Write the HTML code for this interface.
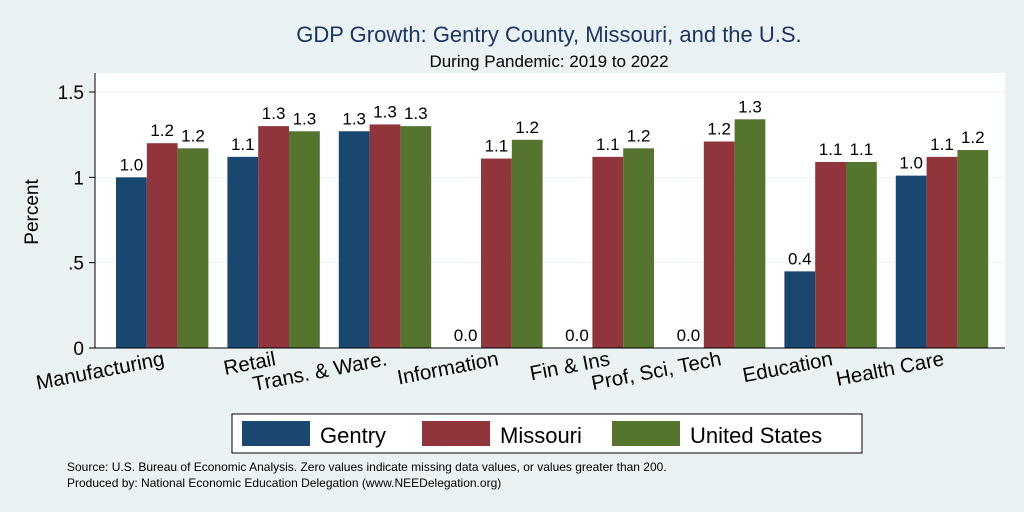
<!DOCTYPE html>
<html><head><meta charset="utf-8"><style>
body{margin:0;background:#eaf2f3;}
svg{display:block;font-family:"Liberation Sans",sans-serif;}
</style></head><body>
<svg id="chart" width="1024" height="512">
<rect x="0" y="0" width="1024" height="512" fill="#eaf2f3"/>
<rect x="95" y="73" width="910" height="275" fill="#ffffff"/>
<text x="549" y="42" text-anchor="middle" font-size="22" fill="#1c3563">GDP Growth: Gentry County, Missouri, and the U.S.</text>
<text x="549" y="67" text-anchor="middle" font-size="17" fill="#000">During Pandemic: 2019 to 2022</text>
<text transform="translate(38,212) rotate(-90)" text-anchor="middle" font-size="19">Percent</text>
<g id="grid"></g><g id="bars"></g><g id="xlabels"></g>
<line x1="95" y1="73" x2="95" y2="348" stroke="#000" stroke-width="1"/>
<line x1="95" y1="348" x2="1005" y2="348" stroke="#000" stroke-width="1"/>
<g>
<rect x="232" y="414" width="630" height="39" fill="#fff" stroke="#000"/>
<rect x="242" y="421" width="68" height="25" fill="#1a476f"/>
<text x="320" y="443" font-size="22">Gentry</text>
<rect x="422" y="421" width="68" height="25" fill="#90353b"/>
<text x="500" y="443" font-size="22">Missouri</text>
<rect x="612" y="421" width="68" height="25" fill="#55752f"/>
<text x="690" y="443" font-size="22">United States</text>
</g>
<text x="67" y="471" font-size="12">Source: U.S. Bureau of Economic Analysis. Zero values indicate missing data values, or values greater than 200.</text>
<text x="67" y="487" font-size="12">Produced by: National Economic Education Delegation (www.NEEDelegation.org)</text>
</svg>
<script>
const categories=["Manufacturing","Retail","Trans. & Ware.","Information","Fin & Ins","Prof, Sci, Tech","Education","Health Care"];
const gentry=[1.0,1.12,1.27,0,0,0,0.449,1.01];
const missouri=[1.20,1.30,1.31,1.11,1.12,1.21,1.09,1.12];
const unitedStates=[1.17,1.27,1.30,1.22,1.17,1.34,1.09,1.16];
const yTicks=[0,0.5,1,1.5];
const yTickLabels=["0",".5","1","1.5"];
const NS="http://www.w3.org/2000/svg";
function y(v){return 348-v*(256/1.5);}
function gx(i){return 116+i*111.4;}
const bw=30.8;
function mk(tag,attrs,parent){const e=document.createElementNS(NS,tag);for(const k in attrs)e.setAttribute(k,attrs[k]);parent.appendChild(e);return e;}
const grid=document.getElementById('grid'),bars=document.getElementById('bars'),xl=document.getElementById('xlabels');
yTicks.forEach((t,i)=>{
 if(t>0){const l=mk('line',{x1:95,x2:1005,y1:y(t),y2:y(t),stroke:'#eaf2f3','stroke-width':1},grid);
 
 }
 const tk=mk('line',{x1:89,x2:95,y1:y(t),y2:y(t),stroke:'#000'},grid);
 
 
 const tx=mk('text',{x:84,y:y(t)+7,'text-anchor':'end','font-size':19},grid);
 tx.textContent=yTickLabels[i];
 
 
});
const series=[[gentry,'#1a476f','gentry'],[missouri,'#90353b','missouri'],[unitedStates,'#55752f','us']];
categories.forEach((c,i)=>{
 series.forEach((s,j)=>{
  const v=s[0][i];const x=gx(i)+j*bw;
  const r=mk('rect',{x:x,y:y(v),width:bw,height:348-y(v),fill:s[1]},bars);
  
  
  const t=mk('text',{x:x+bw/2,y:y(v)-7,'text-anchor':'middle','font-size':17},bars);
  t.textContent=v.toFixed(1);
  
  
 });
 const cx=gx(i)+1.5*bw+3;
 const t=mk('text',{transform:'translate('+cx+',365) rotate(-11)','text-anchor':'end','font-size':20.5},xl);
 t.textContent=c;
 
 
});
</script>
</body></html>
